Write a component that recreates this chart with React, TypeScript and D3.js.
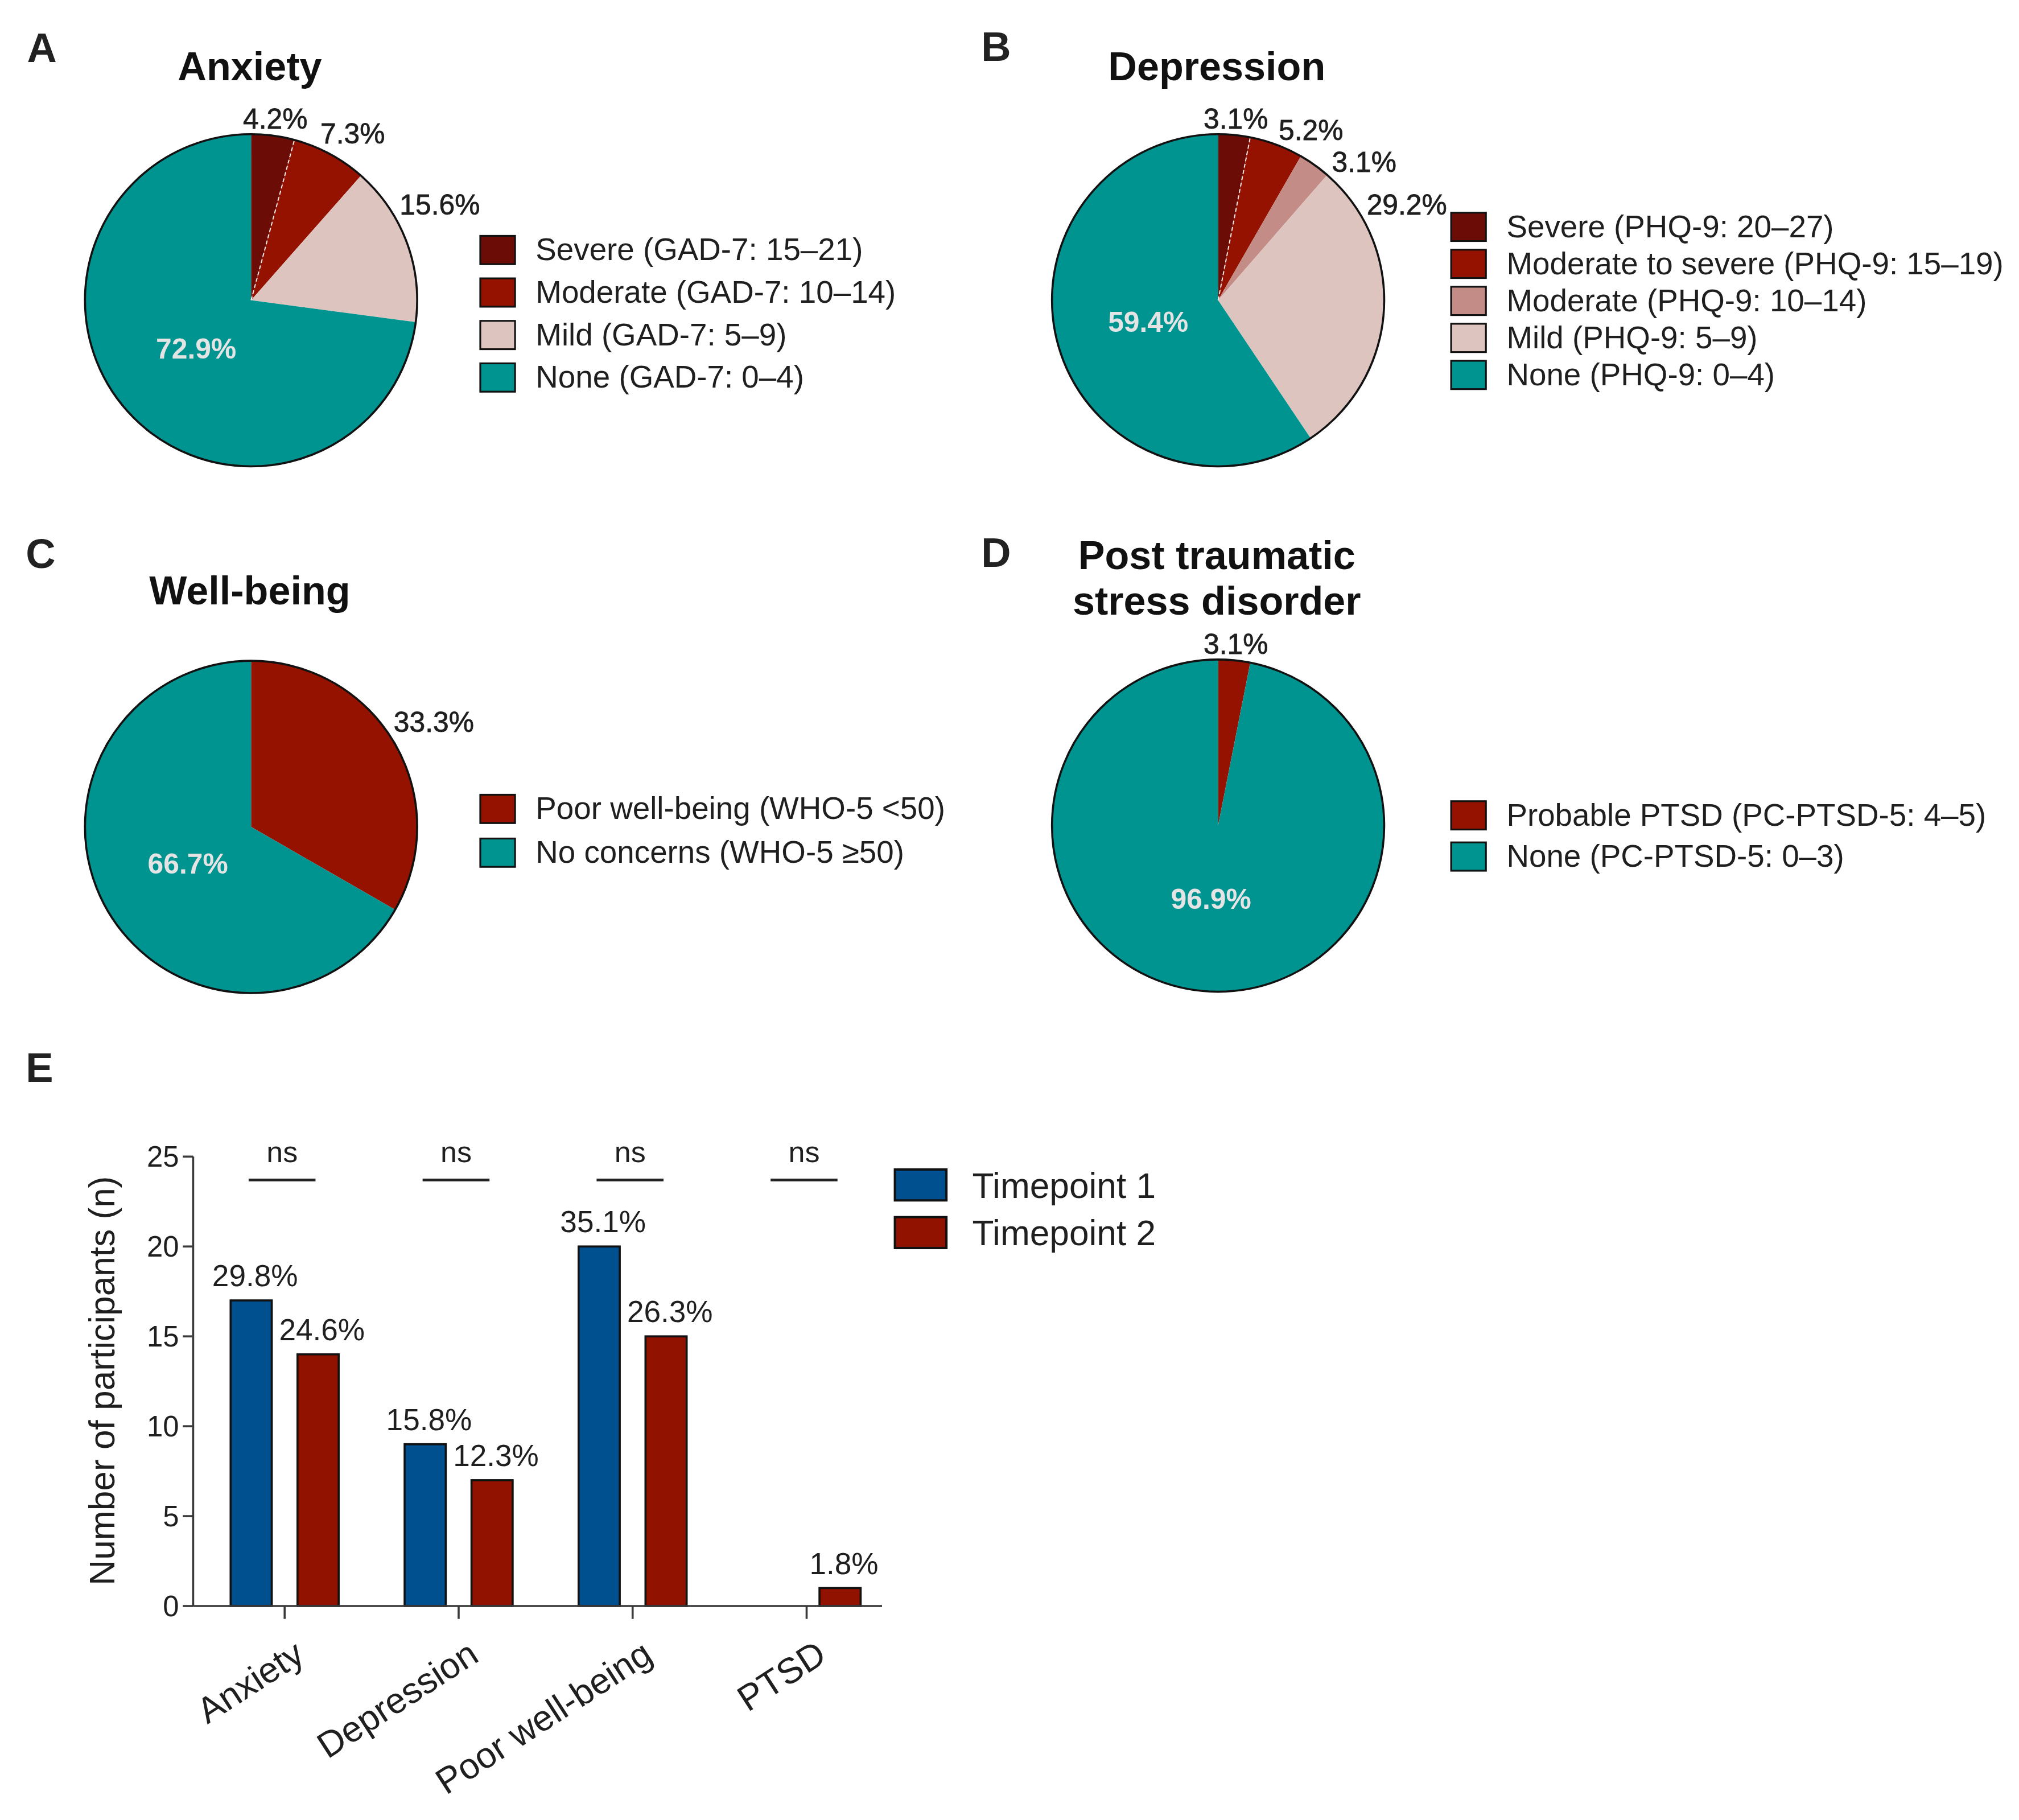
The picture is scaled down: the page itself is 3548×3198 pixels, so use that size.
import React from 'react';
import * as d3 from 'd3';

// ---------- DATA ----------
const anxietyCategories = ['Severe (GAD-7: 15–21)', 'Moderate (GAD-7: 10–14)', 'Mild (GAD-7: 5–9)', 'None (GAD-7: 0–4)'];
const anxietyValues = [4.2, 7.3, 15.6, 72.9];

const depressionCategories = [
  'Severe (PHQ-9: 20–27)',
  'Moderate to severe (PHQ-9: 15–19)',
  'Moderate (PHQ-9: 10–14)',
  'Mild (PHQ-9: 5–9)',
  'None (PHQ-9: 0–4)',
];
const depressionValues = [3.1, 5.2, 3.1, 29.2, 59.4];

const wellbeingCategories = ['Poor well-being (WHO-5 <50)', 'No concerns (WHO-5 ≥50)'];
const wellbeingValues = [33.3, 66.7];

const ptsdCategories = ['Probable PTSD (PC-PTSD-5: 4–5)', 'None (PC-PTSD-5: 0–3)'];
const ptsdValues = [3.1, 96.9];

const barCategories = ['Anxiety', 'Depression', 'Poor well-being', 'PTSD'];
const barSeries = ['Timepoint 1', 'Timepoint 2'];
const timepoint1Values = [17, 9, 20, 0];
const timepoint2Values = [14, 7, 15, 1];
const timepoint1Labels = ['29.8%', '15.8%', '35.1%', ''];
const timepoint2Labels = ['24.6%', '12.3%', '26.3%', '1.8%'];
const significanceLabels = ['ns', 'ns', 'ns', 'ns'];
const yTicks = [0, 5, 10, 15, 20, 25];

// ---------- STYLE ----------
const FONT = "'Liberation Sans', Arial, Helvetica, sans-serif";
const TEAL = '#009491';
const SEVERE = '#6b0c06';
const MODERATE = '#951200';
const MODERATE_LIGHT = '#c48c86';
const MILD = '#ddc4bf';
const BLUE = '#00508f';
const RED = '#921200';
const TEXT = '#1f1f1f';
const AXIS = '#3a3a3a';

const anxietyColors = [SEVERE, MODERATE, MILD, TEAL];
const depressionColors = [SEVERE, MODERATE, MODERATE_LIGHT, MILD, TEAL];
const wellbeingColors = [MODERATE, TEAL];
const ptsdColors = [MODERATE, TEAL];
const barColors = [BLUE, RED];

function estWidth(text: string, fs: number) {
  let w = 0;
  for (const ch of text) {
    if (ch === '.') w += 0.278;
    else if (ch === '%') w += 0.889;
    else w += 0.556;
  }
  return w * fs;
}

type PieArc = d3.PieArcDatum<number>;

function placeOuterLabels(arcs: PieArc[], idxs: number[], texts: string[], r: number, fs: number) {
  const gap = 4;
  const pad = 8;
  const maxA = (63 * Math.PI) / 180;
  const boxes: { x0: number; x1: number; y0: number; y1: number }[] = [];
  return idxs.map((i) => {
    const a0 = (arcs[i].startAngle + arcs[i].endAngle) / 2;
    let a = Math.min(a0, maxA);
    const w = estWidth(texts[i], fs);
    const h = fs * 0.74;
    let bx = 0;
    let by = 0;
    for (let k = 0; k < 150; k++) {
      const dx = Math.sin(a);
      const dy = -Math.cos(a);
      for (let t = r; t < r + 250; t += 0.5) {
        bx = dx * t;
        by = dy * t;
        const nx = Math.max(bx - w / 2, Math.min(0, bx + w / 2));
        const ny = Math.max(by - h / 2, Math.min(0, by + h / 2));
        if (Math.hypot(nx, ny) >= r + gap) break;
      }
      const overlap = boxes.some(
        (b) => bx - w / 2 < b.x1 + pad && bx + w / 2 > b.x0 - pad && by - h / 2 < b.y1 + pad && by + h / 2 > b.y0 - pad
      );
      if (!overlap) break;
      a += Math.PI / 180;
    }
    boxes.push({ x0: bx - w / 2, x1: bx + w / 2, y0: by - h / 2, y1: by + h / 2 });
    return { x: bx, y: by + h / 2, text: texts[i], key: i };
  });
}

interface PieProps {
  cx: number;
  cy: number;
  r: number;
  values: number[];
  colors: string[];
  categories: string[];
  legendX: number;
  legendY0: number;
  legendStep: number;
  divider: boolean;
}

function PiePanel({ cx, cy, r, values, colors, categories, legendX, legendY0, legendStep, divider }: PieProps) {
  const pie = d3.pie<number>().sort(null).value((d) => d).startAngle(0).endAngle(2 * Math.PI);
  const arcs = pie(values);
  const arc = d3.arc<PieArc>().innerRadius(0).outerRadius(r);
  const texts = values.map((v) => `${v.toFixed(1)}%`);
  const n = values.length;
  const outerIdx = d3.range(0, n - 1);
  const fs = 22;
  const outer = placeOuterLabels(arcs, outerIdx, texts, r, fs);
  const inner = arcs[n - 1];
  const innerMid = (inner.startAngle + inner.endAngle) / 2;
  const ir = r * 0.44;
  const divA = arcs[0].endAngle;
  return (
    <g>
      <g transform={`translate(${cx},${cy})`}>
        {arcs.map((a, i) => (
          <path key={i} d={arc(a) || ''} fill={colors[i]} stroke="none" />
        ))}
        {divider && (
          <line
            x1={0}
            y1={0}
            x2={Math.sin(divA) * r}
            y2={-Math.cos(divA) * r}
            stroke="#f2e6e4"
            strokeWidth={0.9}
            strokeDasharray="3,2"
          />
        )}
        <circle r={r} fill="none" stroke="#111" strokeWidth={1.6} />
        {outer.map((l) => (
          <text
            key={l.key}
            x={l.x}
            y={l.y}
            textAnchor="middle"
            fontSize={fs}
            fontFamily={FONT}
            fill={TEXT}
            stroke={TEXT}
            strokeWidth={0.35}
          >
            {l.text}
          </text>
        ))}
        <text
          x={Math.sin(innerMid) * ir}
          y={-Math.cos(innerMid) * ir + fs * 0.36}
          textAnchor="middle"
          fontSize={fs}
          fontWeight="bold"
          fontFamily={FONT}
          fill="#e4e4e4"
        >
          {texts[n - 1]}
        </text>
      </g>
      {categories.map((c, i) => {
        const yc = legendY0 + i * legendStep;
        return (
          <g key={c}>
            <rect x={legendX} y={yc - 11} width={27} height={22} fill={colors[i]} stroke="#111" strokeWidth={1.4} />
            <text x={legendX + 43} y={yc + 8} fontSize={24.2} fontFamily={FONT} fill={TEXT}>
              {c}
            </text>
          </g>
        );
      })}
    </g>
  );
}

function BarPanel() {
  const x0 = d3.scaleBand<string>().domain(barCategories).range([153.5, 694]).padding(0);
  const x1 = d3.scaleBand<string>().domain(barSeries).range([0, x0.bandwidth()]).paddingInner(0.385).paddingOuter(0.493);
  const y = d3.scaleLinear().domain([0, 25]).range([1247, 898]);
  const series = [timepoint1Values, timepoint2Values];
  const seriesLabels = [timepoint1Labels, timepoint2Labels];
  const axisX = 150;
  const axisEnd = 685;
  return (
    <g fontFamily={FONT} fill={TEXT}>
      {/* bars */}
      {barCategories.map((cat, ci) => (
        <g key={cat} transform={`translate(${x0(cat)},0)`}>
          {barSeries.map((s, si) => {
            const v = series[si][ci];
            if (v <= 0) return null;
            return (
              <rect
                key={s}
                x={x1(s)}
                y={y(v)}
                width={x1.bandwidth()}
                height={y(0) - y(v)}
                fill={barColors[si]}
                stroke="#111"
                strokeWidth={1.6}
              />
            );
          })}
          {barSeries.map((s, si) => {
            const lab = seriesLabels[si][ci];
            if (!lab) return null;
            return (
              <text
                key={s + 'l'}
                x={(x1(s) || 0) + x1.bandwidth() / 2 + 3}
                y={y(series[si][ci]) - 11}
                textAnchor="middle"
                fontSize={23.5}
              >
                {lab}
              </text>
            );
          })}
          {/* significance */}
          <line
            x1={(x1(barSeries[0]) || 0) + x1.bandwidth() / 2 - 2}
            x2={(x1(barSeries[1]) || 0) + x1.bandwidth() / 2 - 2}
            y1={y(23.7)}
            y2={y(23.7)}
            stroke="#222"
            strokeWidth={2}
          />
          <text x={x0.bandwidth() / 2 - 2} y={y(24.7)} textAnchor="middle" fontSize={23}>
            {significanceLabels[ci]}
          </text>
        </g>
      ))}
      {/* y axis */}
      <line x1={axisX} x2={axisX} y1={y(0)} y2={y(25)} stroke={AXIS} strokeWidth={1.6} />
      {yTicks.map((t) => (
        <g key={t}>
          <line x1={axisX - 8} x2={axisX} y1={y(t)} y2={y(t)} stroke={AXIS} strokeWidth={1.6} />
          <text x={axisX - 11} y={y(t) + 8} textAnchor="end" fontSize={22.5}>
            {t}
          </text>
        </g>
      ))}
      {/* x axis */}
      <line x1={axisX} x2={axisEnd} y1={y(0)} y2={y(0)} stroke={AXIS} strokeWidth={1.6} />
      {barCategories.map((cat) => {
        const cx = (x0(cat) || 0) + x0.bandwidth() / 2;
        return (
          <g key={cat + 't'}>
            <line x1={cx} x2={cx} y1={y(0)} y2={y(0) + 10} stroke={AXIS} strokeWidth={1.6} />
            <text transform={`translate(${cx + 17},${y(0) + 42}) rotate(-33)`} textAnchor="end" fontSize={28}>
              {cat}
            </text>
          </g>
        );
      })}
      <text transform={`translate(89,1072) rotate(-90)`} textAnchor="middle" fontSize={27.5}>
        Number of participants (n)
      </text>
      {/* legend */}
      {barSeries.map((s, i) => (
        <g key={s}>
          <rect x={695} y={908 + i * 37} width={40} height={24} fill={barColors[i]} stroke="#111" strokeWidth={1.8} />
          <text x={755} y={930 + i * 37} fontSize={27.5}>
            {s}
          </text>
        </g>
      ))}
    </g>
  );
}

export default function App() {
  const titleProps = { fontFamily: FONT, fontWeight: 'bold' as const, fontSize: 31, fill: '#111', textAnchor: 'middle' as const };
  const letterProps = { fontFamily: FONT, fontWeight: 'bold' as const, fontSize: 32, fill: '#222' };
  return (
    <svg
      width={3548}
      height={3198}
      viewBox="0 0 1568 1413"
      style={{ position: 'absolute', left: 0, top: 0, display: 'block', background: '#fff' }}
    >
      <rect x={0} y={0} width={1568} height={1413} fill="#fff" />
      {/* letters */}
      <text x={21} y={48} {...letterProps}>A</text>
      <text x={762} y={47} {...letterProps}>B</text>
      <text x={20} y={441} {...letterProps}>C</text>
      <text x={762} y={440} {...letterProps}>D</text>
      <text x={20} y={840} {...letterProps}>E</text>
      {/* titles */}
      <text x={194} y={62} {...titleProps}>Anxiety</text>
      <text x={945} y={62} {...titleProps}>Depression</text>
      <text x={194} y={469} {...titleProps}>Well-being</text>
      <text x={945} y={442} {...titleProps}>Post traumatic</text>
      <text x={945} y={477} {...titleProps}>stress disorder</text>

      <PiePanel
        cx={195}
        cy={233}
        r={129}
        values={anxietyValues}
        colors={anxietyColors}
        categories={anxietyCategories}
        legendX={373}
        legendY0={194}
        legendStep={33}
        divider={true}
      />
      <PiePanel
        cx={946}
        cy={233}
        r={129}
        values={depressionValues}
        colors={depressionColors}
        categories={depressionCategories}
        legendX={1127}
        legendY0={176}
        legendStep={28.75}
        divider={true}
      />
      <PiePanel
        cx={195}
        cy={642}
        r={129}
        values={wellbeingValues}
        colors={wellbeingColors}
        categories={wellbeingCategories}
        legendX={373}
        legendY0={628}
        legendStep={34}
        divider={false}
      />
      <PiePanel
        cx={946}
        cy={641}
        r={129}
        values={ptsdValues}
        colors={ptsdColors}
        categories={ptsdCategories}
        legendX={1127}
        legendY0={633}
        legendStep={32}
        divider={false}
      />
      <BarPanel />
    </svg>
  );
}
